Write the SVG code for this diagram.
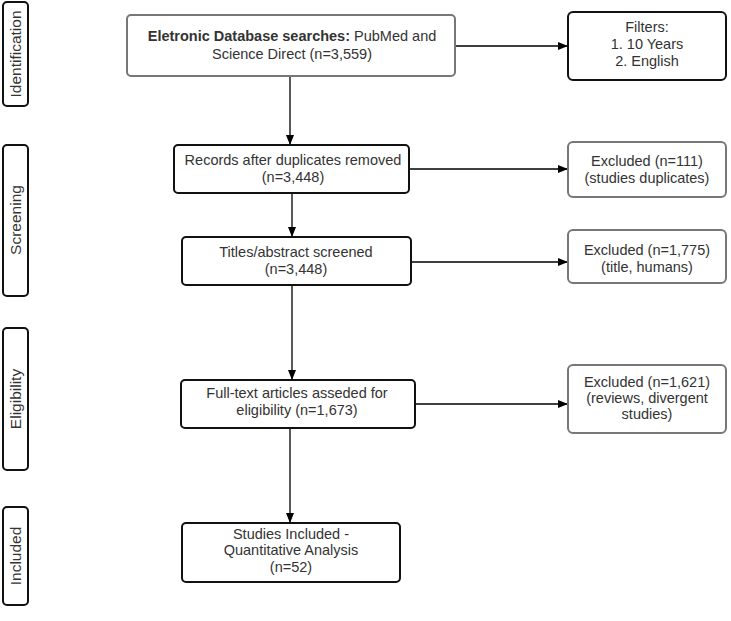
<svg xmlns="http://www.w3.org/2000/svg" width="731" height="621" viewBox="0 0 731 621">
<defs>
<style>
.b{fill:#fff;stroke:#111;stroke-width:2}
.g{fill:#fff;stroke:#777;stroke-width:2}
text{font-family:"Liberation Sans",Arial,sans-serif;font-size:14.5px;fill:#333;text-anchor:middle}
text.s{font-size:15.5px}
.c{stroke:#000;stroke-width:1.3;fill:none;marker-end:url(#ah)}
</style>
<marker id="ah" markerWidth="10" markerHeight="8" refX="9" refY="4" orient="auto" markerUnits="userSpaceOnUse">
<path d="M0,0 L10,4 L0,8 Z" fill="#000"/>
</marker>
</defs>
<rect width="731" height="621" fill="#fff"/>
<g id="lbl-identification"><rect class="b" x="3" y="2" width="25" height="104" rx="4"/><text class="s" transform="translate(21,54) rotate(-90)">Identification</text></g>
<g id="lbl-screening"><rect class="b" x="3" y="145" width="25" height="151" rx="4"/><text class="s" transform="translate(21,220) rotate(-90)">Screening</text></g>
<g id="lbl-eligibility"><rect class="b" x="3" y="328" width="25" height="142" rx="4"/><text class="s" transform="translate(21,399) rotate(-90)">Eligibility</text></g>
<g id="lbl-included"><rect class="b" x="3" y="507" width="25" height="98" rx="4"/><text class="s" transform="translate(21,556) rotate(-90)">Included</text></g>

<g id="connectors">
<path class="c" d="M290,76 V144"/>
<path class="c" d="M455,46 H567"/>
<path class="c" d="M292,193 V236"/>
<path class="c" d="M409,169 H567"/>
<path class="c" d="M411,262 H567"/>
<path class="c" d="M292,285 V379"/>
<path class="c" d="M415,404 H567"/>
<path class="c" d="M290,428 V522"/>
</g>

<g id="n-search"><rect class="g" x="127" y="15" width="328" height="61" rx="4"/><text x="292" y="41"><tspan font-weight="bold">Eletronic Database searches:</tspan> PubMed and</text><text x="292" y="59">Science Direct (n=3,559)</text></g>
<g id="n-filters"><rect class="b" x="568" y="12" width="158" height="68" rx="5"/><text x="647" y="32">Filters:</text><text x="647" y="49">1. 10 Years</text><text x="647" y="66">2. English</text></g>
<g id="n-records"><rect class="b" x="174" y="145" width="235" height="48" rx="4"/><text x="293" y="165">Records after duplicates removed</text><text x="293" y="182">(n=3,448)</text></g>
<g id="n-excl111"><rect class="g" x="568" y="142" width="158" height="55" rx="5"/><text x="647" y="166">Excluded (n=111)</text><text x="647" y="183">(studies duplicates)</text></g>
<g id="n-titles"><rect class="b" x="182" y="237" width="229" height="48" rx="4"/><text x="296" y="257">Titles/abstract screened</text><text x="296" y="274">(n=3,448)</text></g>
<g id="n-excl1775"><rect class="g" x="568" y="230" width="158" height="53" rx="5"/><text x="647" y="255">Excluded (n=1,775)</text><text x="647" y="272">(title, humans)</text></g>
<g id="n-fulltext"><rect class="b" x="181" y="380" width="234" height="48" rx="4"/><text x="297" y="398">Full-text articles asseded for</text><text x="297" y="415">eligibility (n=1,673)</text></g>
<g id="n-excl1621"><rect class="g" x="568" y="365" width="158" height="68" rx="5"/><text x="647" y="387">Excluded (n=1,621)</text><text x="647" y="403">(reviews, divergent</text><text x="647" y="419">studies)</text></g>
<g id="n-included"><rect class="b" x="182" y="523" width="218" height="59" rx="4"/><text x="291" y="539">Studies Included -</text><text x="291" y="555">Quantitative Analysis</text><text x="291" y="572">(n=52)</text></g>
</svg>
